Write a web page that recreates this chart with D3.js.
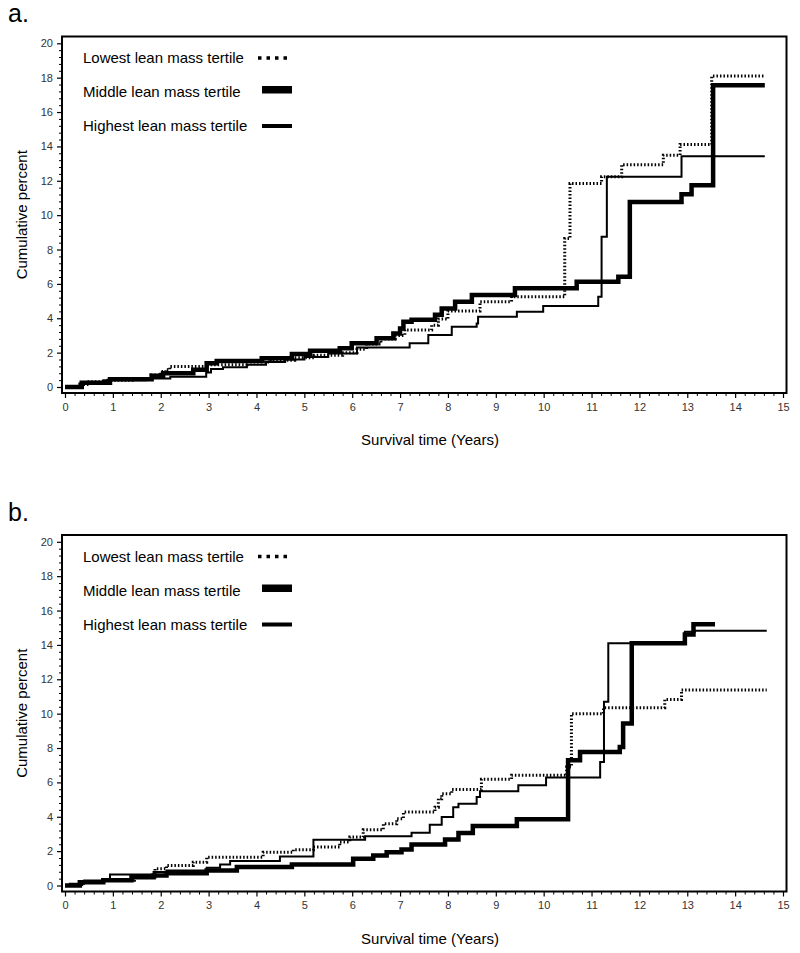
<!DOCTYPE html>
<html>
<head>
<meta charset="utf-8">
<script src="https://cdn.jsdelivr.net/npm/d3@7"></script>
<style>
  html, body { margin: 0; padding: 0; background: #fff; }
  svg { display: block; }
  text { font-family: Arial, "Liberation Sans", sans-serif; }
</style>
</head>
<body>
<svg id="chart" width="800" height="953"></svg>
<script>
// ---------- data (cumulative percent step curves, [years, percent]) ----------
const seriesNames = ["Lowest lean mass tertile", "Middle lean mass tertile", "Highest lean mass tertile"];
const xTickValues = d3.range(0, 16, 1);
const yTickValues = d3.range(0, 21, 2);
const panelLabels = ["a.", "b."];
const xAxisTitle = "Survival time (Years)";
const yAxisTitle = "Cumulative percent";

const aLowest = [[0,0],[0.3,0.15],[0.5,0.3],[0.9,0.4],[1.4,0.5],[1.8,0.7],[2.0,0.9],[2.1,1.0],[2.19,1.2],[2.95,1.3],[3.8,1.45],[4.3,1.55],[4.8,1.7],[5.2,1.85],[5.8,2.0],[6.1,2.2],[6.3,2.5],[6.6,2.8],[6.9,3.0],[7.1,3.31],[7.66,3.6],[7.8,3.95],[8.0,4.42],[8.67,4.96],[9.33,5.25],[10.44,8.64],[10.55,11.84],[11.21,12.23],[11.63,12.94],[12.5,13.49],[12.85,14.11],[13.51,18.1],[14.62,18.1]];
const aMiddle = [[0,0],[0.35,0.25],[0.94,0.45],[1.81,0.65],[2.05,0.8],[2.68,1.0],[2.96,1.38],[3.17,1.51],[4.11,1.67],[4.74,1.92],[5.12,2.11],[5.74,2.25],[5.99,2.54],[6.51,2.83],[6.86,3.12],[7.0,3.41],[7.07,3.8],[7.24,3.92],[7.73,4.2],[7.87,4.57],[8.15,4.96],[8.5,5.35],[9.4,5.74],[10.69,6.12],[11.56,6.41],[11.8,10.77],[12.88,11.22],[13.09,11.74],[13.54,17.56],[14.62,17.56]];
const aHighest = [[0,0],[0.3,0.2],[0.8,0.4],[1.7,0.5],[2.2,0.6],[2.95,0.85],[3.05,1.05],[3.3,1.15],[3.8,1.3],[4.2,1.45],[4.6,1.6],[5.0,1.75],[5.5,1.95],[6.1,2.3],[7.2,2.54],[7.59,3.02],[8.08,3.51],[8.6,3.7],[8.63,4.09],[9.44,4.38],[9.99,4.71],[11.14,5.25],[11.21,8.74],[11.32,12.23],[12.88,13.43],[14.62,13.43]];

const bLowest = [[0,0],[0.1,0.06],[0.35,0.2],[0.8,0.3],[1.45,0.5],[1.88,0.97],[2.12,1.17],[2.68,1.36],[2.96,1.65],[4.14,1.94],[4.77,2.08],[5.19,2.24],[5.74,2.53],[5.95,2.82],[6.23,3.24],[6.65,3.59],[6.93,3.89],[7.07,4.27],[7.73,4.56],[7.8,5.05],[7.87,5.34],[8.08,5.58],[8.7,6.18],[9.33,6.41],[10.48,6.9],[10.58,10.0],[11.25,10.35],[12.53,10.82],[12.88,11.37],[14.66,11.37]];
const bMiddle = [[0,0],[0.31,0.19],[0.8,0.3],[1.39,0.48],[1.85,0.58],[2.12,0.72],[2.96,0.87],[3.59,1.07],[4.74,1.22],[6.02,1.55],[6.44,1.75],[6.72,1.94],[7.03,2.1],[7.24,2.39],[7.94,2.68],[8.22,3.05],[8.52,3.46],[9.44,3.85],[10.51,7.29],[10.76,7.77],[11.59,8.06],[11.66,9.42],[11.84,14.09],[12.95,14.61],[13.13,15.2],[13.58,15.2]];
const bHighest = [[0,0],[0.1,0.1],[0.4,0.29],[0.94,0.64],[1.85,0.78],[2.12,0.87],[2.96,1.03],[3.24,1.22],[3.45,1.42],[4.49,1.69],[5.19,2.66],[6.27,2.87],[7.24,3.07],[7.62,3.54],[7.87,3.98],[8.11,4.56],[8.22,4.76],[8.6,5.15],[8.67,5.48],[9.47,5.83],[10.05,6.28],[11.18,7.19],[11.26,10.69],[11.35,14.09],[12.95,14.77],[13.16,14.83],[14.66,14.83]];

// ---------- drawing ----------
const svg = d3.select("#chart");
const panels = [
  { label: panelLabels[0], dy: 0, series: [aLowest, aMiddle, aHighest] },
  { label: panelLabels[1], dy: 498.5, series: [bLowest, bMiddle, bHighest] }
];

const styles = [
  { width: 3, dash: "1.5,2" },
  { width: 4.5, dash: null },
  { width: 2, dash: null }
];

panels.forEach(p => {
  const g = svg.append("g").attr("transform", `translate(0,${p.dy})`);
  const x = d3.scaleLinear().domain([0, 15]).range([65, 783]);
  const y = d3.scaleLinear().domain([0, 20]).range([387, 43.3]);
  const frameL = 62, frameR = 786.5, frameT = 36.5, frameB = 393;

  // panel label
  g.append("text").attr("x", 8).attr("y", 22).attr("font-size", 25).attr("fill", "#000").text(p.label);

  // x axis (bottom of frame)
  const xAxis = g.append("g").attr("transform", `translate(0,${frameB})`)
    .call(d3.axisBottom(x).tickValues(xTickValues).tickSize(5).tickFormat(d3.format("d")));
  xAxis.select(".domain").remove();
  xAxis.selectAll(".tick line").attr("stroke", "#000").attr("stroke-width", 1.2);
  xAxis.selectAll(".tick text").attr("font-size", 11).attr("fill", "#333").attr("dy", "0.9em")
    .attr("font-family", "Arial, 'Liberation Sans', sans-serif");
  const xMinor = g.append("g").attr("transform", `translate(0,${frameB})`)
    .call(d3.axisBottom(x).tickValues(d3.range(0, 15.01, 0.2).filter(v => Math.abs(v - Math.round(v)) > 1e-6)).tickSize(3).tickFormat(""));
  xMinor.select(".domain").remove();
  xMinor.selectAll(".tick line").attr("stroke", "#000");

  // y axis (left of frame)
  const yAxis = g.append("g").attr("transform", `translate(${frameL},0)`)
    .call(d3.axisLeft(y).tickValues(yTickValues).tickSize(5).tickPadding(4).tickFormat(d3.format("d")));
  yAxis.select(".domain").remove();
  yAxis.selectAll(".tick line").attr("stroke", "#000").attr("stroke-width", 1.2);
  yAxis.selectAll(".tick text").attr("font-size", 11).attr("fill", "#333")
    .attr("font-family", "Arial, 'Liberation Sans', sans-serif");
  const yMinor = g.append("g").attr("transform", `translate(${frameL},0)`)
    .call(d3.axisLeft(y).tickValues(d3.range(0, 20.01, 0.4).filter(v => Math.abs(v / 2 - Math.round(v / 2)) > 1e-6)).tickSize(3).tickFormat(""));
  yMinor.select(".domain").remove();
  yMinor.selectAll(".tick line").attr("stroke", "#000");

  // frame
  g.append("rect").attr("x", frameL).attr("y", frameT).attr("width", frameR - frameL).attr("height", frameB - frameT)
    .attr("fill", "none").attr("stroke", "#000").attr("stroke-width", 2);

  // axis titles
  g.append("text").attr("x", 430).attr("y", 445).attr("text-anchor", "middle").attr("font-size", 15).attr("fill", "#000").text(xAxisTitle);
  g.append("text").attr("transform", `translate(27,${(frameT + frameB) / 2}) rotate(-90)`)
    .attr("text-anchor", "middle").attr("font-size", 15).attr("fill", "#000").text(yAxisTitle);

  // curves
  const line = d3.line().x(d => x(d[0])).y(d => y(d[1])).curve(d3.curveStepAfter);
  [2, 0, 1].forEach(i => {
    g.append("path").datum(p.series[i]).attr("d", line)
      .attr("fill", "none").attr("stroke", "#000")
      .attr("stroke-width", styles[i].width)
      .attr("stroke-dasharray", styles[i].dash)
      .attr("stroke-linejoin", "miter");
  });

  // legend
  const legY = [58, 92, 126];
  seriesNames.forEach((name, i) => {
    g.append("text").attr("x", 83).attr("y", legY[i] + 5).attr("font-size", 15).attr("fill", "#000").text(name);
  });
  g.append("line").attr("x1", 258).attr("x2", 291).attr("y1", legY[0]).attr("y2", legY[0])
    .attr("stroke", "#000").attr("stroke-width", 3.5).attr("stroke-dasharray", "3.5,5");
  g.append("rect").attr("x", 262).attr("y", legY[1] - 6).attr("width", 30).attr("height", 7.5).attr("fill", "#000");
  g.append("line").attr("x1", 262).attr("x2", 292).attr("y1", legY[2]).attr("y2", legY[2])
    .attr("stroke", "#000").attr("stroke-width", 4);
});
</script>
</body>
</html>
